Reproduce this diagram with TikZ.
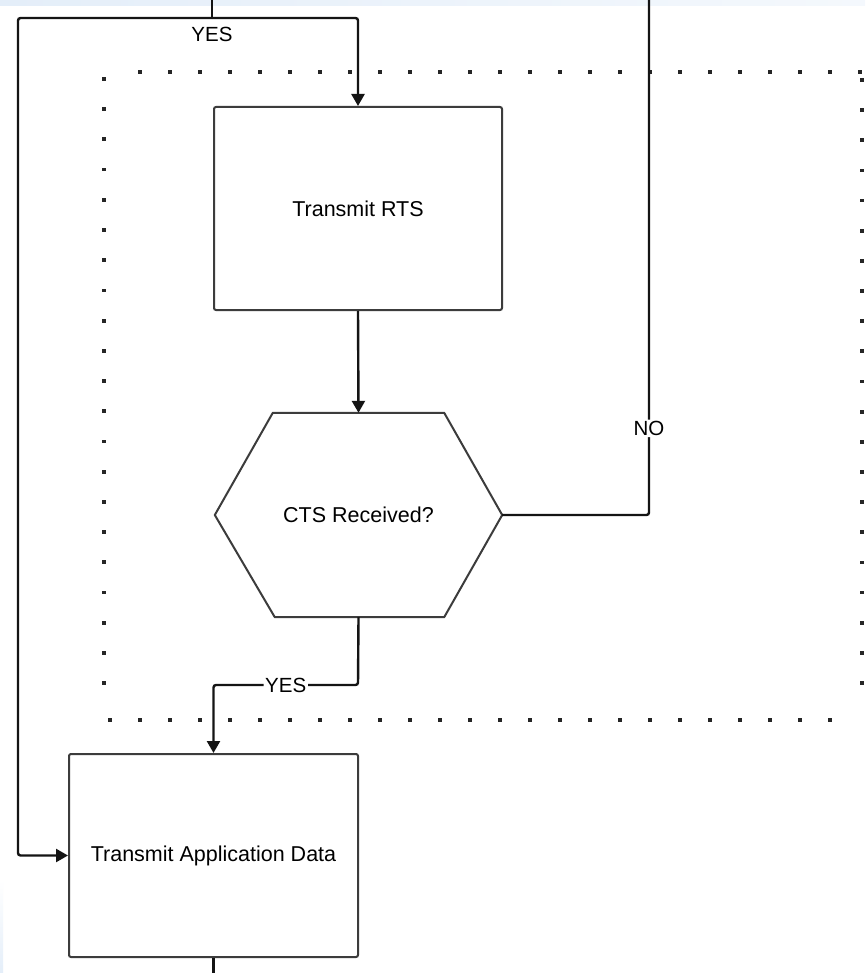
\documentclass[tikz,border=0pt]{standalone}
\usepackage{fontspec}
\setmainfont{Liberation Sans}
\usetikzlibrary{arrows.meta,calc}

\definecolor{edgeblue}{RGB}{228,238,249}
\definecolor{boxline}{RGB}{60,60,60}
\definecolor{wire}{RGB}{20,20,20}

\tikzset{
  procbox/.style={draw=boxline, line width=2pt, rounded corners=2pt, fill=white,
    inner sep=0pt, font=\fontsize{21.5}{25}\selectfont},
  wirestyle/.style={draw=wire, line width=2.4pt, rounded corners=2.5pt},
  arrowwire/.style={wirestyle, -{Triangle[width=13pt,length=12pt]}},
  lbl/.style={font=\fontsize{20.5}{24}\selectfont, fill=white, inner sep=1.5pt},
  dotmark/.style={fill=black!85, draw=none},
}

\begin{document}
\begin{tikzpicture}[x=1pt,y=-1pt]
  % canvas and faint blue edge strips
  \useasboundingbox (0,0) rectangle (865,973);
  \fill[white] (0,0) rectangle (865,973);
  \shade[left color=edgeblue, right color=edgeblue!40!white] (0,0) rectangle (865,6);
  \shade[top color=white, bottom color=edgeblue] (0,880) rectangle (3,973);

  % dotted grouping frame
  \foreach \i in {0,...,24} {
    \fill[dotmark] ({140+30*\i-1.9},{72-1.9}) rectangle ++(3.8,3.8);
    \fill[dotmark] ({110+30*\i-1.9},{720-1.9}) rectangle ++(3.8,3.8);
  }
  \foreach \i in {0,...,20} {
    \fill[dotmark] ({104-1.9},{79+30.2*\i-1.9}) rectangle ++(3.8,3.8);
    \fill[dotmark] ({862-1.9},{80+30.15*\i-1.9}) rectangle ++(3.8,3.8);
  }

  % process boxes
  \node[procbox, minimum width=288pt, minimum height=203pt] (rts) at (358,208.5) {Transmit RTS};
  \node[procbox, minimum width=289pt, minimum height=203pt] (app) at (213.5,855.5) {Transmit Application Data};

  % decision hexagon: invisible frame plus outline through its anchors
  \node[minimum width=287pt, minimum height=204pt, inner sep=0pt,
        font=\fontsize{21.5}{25}\selectfont] (cts) at (358.5,515) {CTS Received?};
  \draw[draw=boxline, line width=2pt, line join=round]
    (cts.west) -- ($(cts.north west)+(58,0)$) -- ($(cts.north east)+(-58,0)$)
    -- (cts.east) -- ($(cts.south east)+(-58,0)$) -- ($(cts.south west)+(60,0)$) -- cycle;

  % connector end points
  \coordinate (topin) at (212,0);
  \coordinate (split) at (212,18);
  \coordinate (lturn) at (18,18);
  \coordinate (noout) at (649,0);
  \coordinate (ymid) at (358,685);
  \coordinate (botout) at (213.5,973);

  % connectors
  \draw[wirestyle] (topin) -- (split);
  \draw[arrowwire] (split) -| (rts.north);
  \draw[arrowwire] (split) -- (lturn) |- (app.west);
  \node[font=\fontsize{20.5}{24}\selectfont, inner sep=0pt] (yestop) at (212,34) {YES};

  \draw[arrowwire] (rts.south) -- (cts.north);

  \draw[wirestyle] (cts.east) -| (noout) node[lbl, pos=0.584] (no) {NO};

  \draw[arrowwire] (cts.south) -- (ymid) -| (app.north) node[lbl, pos=0.25] (yesbot) {YES};

  \draw[wirestyle] (app.south) -- (botout);
\end{tikzpicture}
\end{document}
